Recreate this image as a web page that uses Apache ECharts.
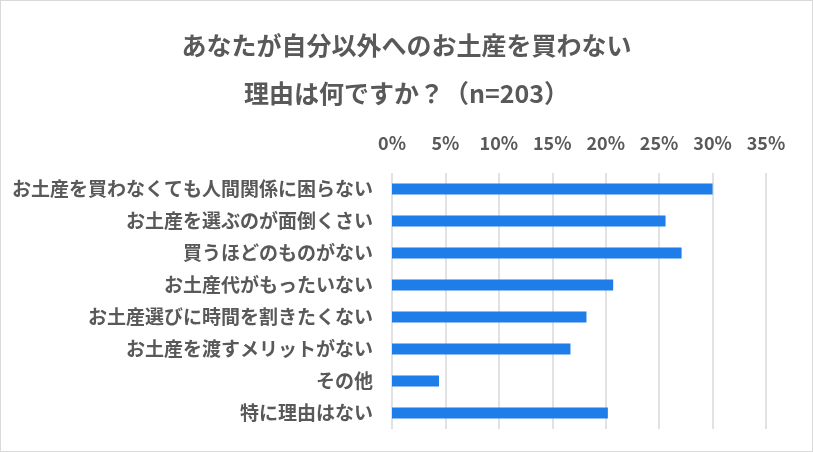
<!DOCTYPE html>
<html>
<head>
<meta charset="utf-8">
<script src="https://cdn.jsdelivr.net/npm/echarts@6/dist/echarts.min.js"></script>
<style>
  html, body { margin: 0; padding: 0; background: #fff; }
  #chart { width: 811px; height: 450px; border: 1px solid #d9d9d9; }
</style>
</head>
<body>
<div id="chart"></div>
<script>
// 理由 (top to bottom)
const reasons = [
  "お土産を買わなくても人間関係に困らない",
  "お土産を選ぶのが面倒くさい",
  "買うほどのものがない",
  "お土産代がもったいない",
  "お土産選びに時間を割きたくない",
  "お土産を渡すメリットがない",
  "その他",
  "特に理由はない"
];
// 割合 (%)
const shares = [30.0, 25.6, 27.1, 20.7, 18.2, 16.7, 4.4, 20.2];

const titleLines = ["あなたが自分以外へのお土産を買わない", "理由は何ですか？（n=203）"];

const textColor = "#595959";
const font = "'Noto Sans CJK JP', 'Noto Sans', sans-serif";

const chart = echarts.init(document.getElementById("chart"));

chart.setOption({
  animation: false,
  textStyle: { fontFamily: font },
  title: {
    text: titleLines.join("\n"),
    left: "center",
    top: 15,
    textStyle: {
      color: textColor,
      fontSize: 25,
      fontWeight: "bold",
      lineHeight: 48,
      fontFamily: font
    }
  },
  grid: { left: 391, right: 46, top: 172, bottom: 22 },
  xAxis: {
    type: "value",
    position: "top",
    min: 0,
    max: 35,
    interval: 5,
    axisLine: { show: false },
    axisTick: { show: false },
    splitLine: { lineStyle: { color: "#d9d9d9", width: 1.5 } },
    axisLabel: {
      color: textColor,
      fontSize: 18,
      fontWeight: "bold",
      margin: 21,
      formatter: "{value}%"
    }
  },
  yAxis: {
    type: "category",
    data: reasons,
    inverse: true,
    axisLine: { show: false },
    axisTick: { show: false },
    axisLabel: {
      color: textColor,
      fontSize: 19,
      fontWeight: "bold",
      margin: 19
    }
  },
  series: [{
    type: "bar",
    data: shares,
    barWidth: 11,
    itemStyle: { color: "#1e7de8" }
  }]
});
</script>
</body>
</html>
